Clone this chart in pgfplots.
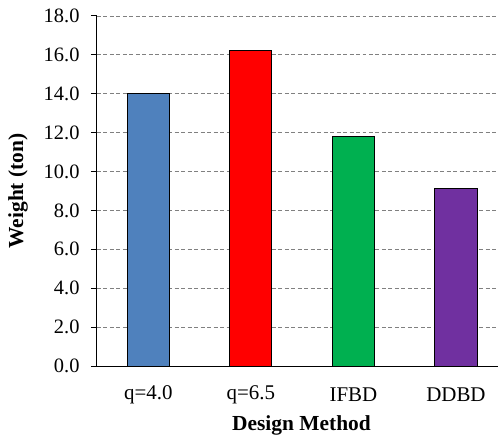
\documentclass[border=0pt]{standalone}
\usepackage{pgfplots}
\pgfplotsset{compat=1.18}
\usepackage{fontspec}
\setmainfont{Liberation Serif}
\definecolor{cblue}{RGB}{79,129,189}
\definecolor{cred}{RGB}{255,0,0}
\definecolor{cgreen}{RGB}{0,176,80}
\definecolor{cpurple}{RGB}{112,48,160}
\definecolor{gridgray}{RGB}{128,128,128}
\begin{document}
\begin{tikzpicture}
\path[use as bounding box] (-97bp,-71bp) rectangle (401bp,366bp);
\begin{axis}[
  at={(0,0)}, anchor=south west,
  scale only axis, width=401bp, height=350bp,
  xmin=-0.5, xmax=3.41, ymin=0, ymax=18,
  axis x line*=bottom, axis y line*=left,
  axis line style={black, line width=1pt},
  ytick={0,2,...,18},
  /pgf/number format/fixed, /pgf/number format/fixed zerofill,
  /pgf/number format/precision=1, /pgf/number format/assume math mode=true,
  yticklabel style={font=\fontsize{20.5}{24}\selectfont, xshift=-8bp},
  ymajorgrids, grid style={gridgray, dashed, line width=0.8pt, dash pattern=on 4pt off 2.5pt},
  major tick length=6bp,
  tick style={black, line width=1pt},
  ytick align=outside,
  xtick={0,1,2,3},
  xticklabels={q=4.0, q=6.5, IFBD, DDBD},
  xticklabel style={font=\fontsize{21}{24}\selectfont, anchor=center, yshift=-29bp},
  x tick style={draw=none},
  extra x ticks={-0.5,0.5,1.5,2.5},
  extra x tick labels={},
  extra x tick style={tick style={black, line width=1pt, draw=black}, tick align=outside, grid=none},
  ylabel={\textbf{Weight (ton)}},
  xlabel={\textbf{Design Method}},
  label style={font=\fontsize{21.5}{25}\selectfont},
  xlabel style={at={(axis description cs:0.51,-0.1686)}, anchor=center},
  ylabel style={at={(axis description cs:-0.197,0.5)}, anchor=center},
  clip=false,
]
\addplot[ybar, bar width=0.41, fill=cblue, draw=black, line width=0.9pt] coordinates {(0,14.03)};
\addplot[ybar, bar width=0.41, fill=cred, draw=black, line width=0.9pt] coordinates {(1,16.24)};
\addplot[ybar, bar width=0.41, fill=cgreen, draw=black, line width=0.9pt] coordinates {(2,11.78)};
\addplot[ybar, bar width=0.41, fill=cpurple, draw=black, line width=0.9pt] coordinates {(3,9.14)};
\end{axis}
\end{tikzpicture}
\end{document}
